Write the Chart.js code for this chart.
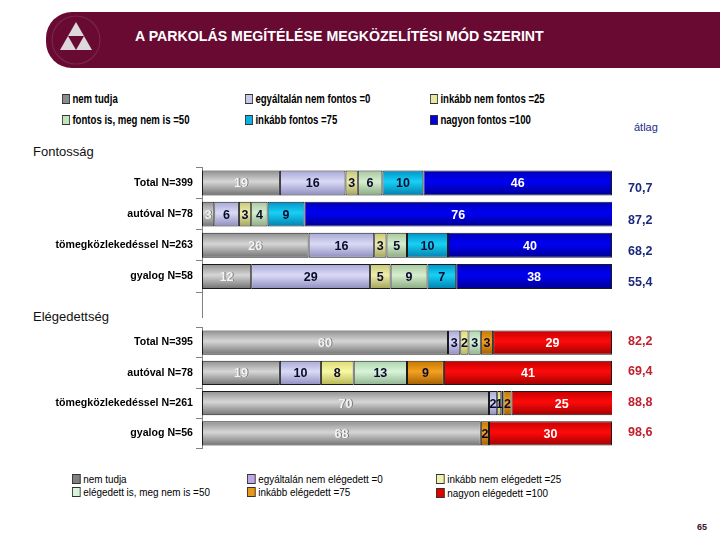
<!DOCTYPE html>
<html>
<head>
<meta charset="utf-8">
<script src="https://cdn.jsdelivr.net/npm/chart.js@4.4.1/dist/chart.umd.min.js"></script>
<style>
  body { margin:0; width:720px; height:540px; background:#fff; position:relative; overflow:hidden;
         font-family:"Liberation Sans",Arial,sans-serif; }
  .abs { position:absolute; white-space:nowrap; }
  #banner { left:46px; top:12px; width:674px; height:56px; background:#680a32; border-radius:26px 0 0 26px; }
  #title { left:135px; top:27px; color:#fff; font-weight:bold; font-size:15px; transform:scaleX(0.945); transform-origin:left top; }
  .leg { font-size:12px; font-weight:bold; color:#000; transform:scaleX(0.8); transform-origin:left top; }
  .leg2 { font-size:11.5px; color:#000; transform:scaleX(0.86); transform-origin:left top; }
  .sw { display:inline-block; width:8px; height:8px; border:1px solid #333; margin-right:3px; vertical-align:-1px; }
  canvas { position:absolute; left:0; }
</style>
</head>
<body>
<div id="banner" class="abs"></div>
<svg class="abs" style="left:48px;top:12px" width="60" height="56">
  <circle cx="28" cy="28" r="24" fill="none" stroke="#7a2648" stroke-width="1.2"/>
  <polygon points="28,10 20,24 36,24" fill="#dcd8dc"/>
  <polygon points="20,24 12,38 28,38" fill="#dcd8dc"/>
  <polygon points="36,24 28,38 44,38" fill="#dcd8dc"/>
</svg>
<div id="title" class="abs">A PARKOLÁS MEGÍTÉLÉSE MEGKÖZELÍTÉSI MÓD SZERINT</div>

<div id="legTop"></div>
<div class="abs" style="left:634px;top:121px;font-size:11px;color:#1c2a8c">átlag</div>
<div class="abs" style="left:33px;top:144px;font-size:13px;color:#111">Fontosság</div>
<div class="abs" style="left:33px;top:309px;font-size:13px;color:#111">Elégedettség</div>
<div id="legBot"></div>
<div class="abs" style="left:697px;top:522px;font-size:9px;font-weight:bold;color:#3a1030">65</div>

<canvas id="chartTop" width="720" height="160" style="top:158px"></canvas>
<canvas id="chartBot" width="720" height="140" style="top:318px"></canvas>

<script>
// ---- Fontosság ----
let topCats = ['Total N=399', 'autóval N=78', 'tömegközlekedéssel N=263', 'gyalog N=58']
let topNames = ['nem tudja', 'egyáltalán nem fontos =0', 'inkább nem fontos =25',
                'fontos is, meg nem is =50', 'inkább fontos =75', 'nagyon fontos =100']
let nemTudjaF   = [19, 3, 26, 12]
let egyaltalanF = [16, 6, 16, 29]
let inkabbNemF  = [3, 3, 3, 5]
let fontosIsF   = [6, 4, 5, 9]
let inkabbF     = [10, 9, 10, 7]
let nagyonF     = [46, 76, 40, 38]
let atlagF      = [70.7, 87.2, 68.2, 55.4]

// ---- Elégedettség ----
let botCats = ['Total N=395', 'autóval N=78', 'tömegközlekedéssel N=261', 'gyalog N=56']
let botNames = ['nem tudja', 'egyáltalán nem elégedett =0', 'inkább nem elégedett =25',
                'elégedett is, meg nem is =50', 'inkább elégedett =75', 'nagyon elégedett =100']
let nemTudjaE   = [60, 19, 70, 68]
let egyaltalanE = [3, 10, 2, 0]
let inkabbNemE  = [2, 8, 1, 0]
let elegedettE  = [3, 13, 0.5, 0]
let inkabbE     = [3, 9, 2, 2]
let nagyonE     = [29, 41, 25, 30]
let atlagE      = [82.2, 69.4, 88.8, 98.6]

// shading: top, middle, bottom of each bar
let topShades = [
    ['#8a8a8a', '#d6d6d6', '#6c6c6c'],
    ['#a4a4d4', '#dadaf6', '#8a8abc'],
    ['#c4c478', '#eeeeaa', '#a0a05a'],
    ['#a4c49c', '#d6eece', '#88a880'],
    ['#0090c4', '#18d0f4', '#007cac'],
    ['#0000b4', '#0000f4', '#000090']
]
let botShades = [
    ['#8a8a8a', '#d6d6d6', '#6c6c6c'],
    ['#a4a4d4', '#dadaf6', '#8a8abc'],
    ['#d8d870', '#f8f8a4', '#b0b050'],
    ['#a8d0a8', '#d8f4d8', '#8cb08c'],
    ['#c07400', '#f4a020', '#9c5c00'],
    ['#c00000', '#ff0a0a', '#9a0000']
]
let labelColors = ['#f4f4f4', '#0a0a30', '#0a0a30', '#0a0a30', '#0a0a30', '#ffffff']

function barFill(shades){
    return function(c){
        let chart = c.chart
        let y = chart.scales.y
        if(!chart.chartArea || !y) return shades[1]
        let mid = y.getPixelForValue(c.dataIndex)
        if(!isFinite(mid)) return shades[1]
        let g = chart.ctx.createLinearGradient(0, mid - 13, 0, mid + 13)
        g.addColorStop(0, shades[0])
        g.addColorStop(0.45, shades[1])
        g.addColorStop(1, shades[2])
        return g
    }
}

function MakeDatasets(names, values, shades){
    let sets = []
    for (let i = 0; i < names.length; i++) {
        sets.push({
            label: names[i],
            data: values[i],
            backgroundColor: barFill(shades[i]),
            borderColor: '#1a1a1a',
            borderWidth: 1,
            borderSkipped: false,
            labelColor: labelColors[i],
            clip: {left: 0, right: 0, top: false, bottom: false}
        })
    }
    return sets
}

const segLabels = {
    id: 'segLabels',
    afterDatasetsDraw(chart){
        let ctx = chart.ctx
        ctx.save()
        ctx.font = 'bold 12.5px "Liberation Sans", Arial, sans-serif'
        ctx.textAlign = 'center'
        ctx.textBaseline = 'middle'
        chart.data.datasets.forEach((ds, i) => {
            chart.getDatasetMeta(i).data.forEach((bar, j) => {
                let v = ds.data[j]
                if(v < 1) return
                let p = bar.getProps(['x', 'y', 'base'], true)
                let right = Math.min(p.x, chart.chartArea.right)
                let cx = (right + p.base) / 2
                if(i === 0){
                    ctx.fillStyle = '#777'
                    ctx.fillText(String(v), cx + 1, p.y + 1)
                }
                ctx.fillStyle = ds.labelColor
                ctx.fillText(String(v), cx, p.y + 1)
            })
        })
        ctx.restore()
    }
}

const averages = {
    id: 'averages',
    afterDraw(chart, args, opts){
        let ctx = chart.ctx
        let y = chart.scales.y
        ctx.save()
        ctx.font = 'bold 12.5px "Liberation Sans", sans-serif'
        ctx.fillStyle = opts.color
        ctx.textAlign = 'left'
        ctx.textBaseline = 'middle'
        opts.values.forEach((v, j) => {
            ctx.fillText(v.toFixed(1).replace('.', ','), chart.chartArea.right + 16, y.getPixelForValue(j) + opts.dy)
        })
        // axis line continues down to the next block
        if(opts.extend){
            ctx.strokeStyle = '#808080'
            ctx.lineWidth = 1
            ctx.beginPath()
            ctx.moveTo(chart.chartArea.left + 0.5, chart.chartArea.bottom)
            ctx.lineTo(chart.chartArea.left + 0.5, chart.height)
            ctx.stroke()
        }
        ctx.restore()
    }
}

function DrawChart(id, cats, sets, avg, color, dy, pad, extend){
    return new Chart(id, {
        type: 'bar',
        data: { labels: cats, datasets: sets },
        plugins: [segLabels, averages],
        options: {
            indexAxis: 'y',
            responsive: false,
            animation: false,
            layout: { padding: { left: 0, right: 108, top: pad[0], bottom: pad[1] } },
            datasets: { bar: { categoryPercentage: 1, barPercentage: 0.8 } },
            scales: {
                x: { stacked: true, min: 0, max: 100, display: false },
                y: {
                    stacked: true,
                    afterFit(scale){ scale.width = 202 },
                    grid: { drawOnChartArea: false, drawTicks: true, tickLength: 6, color: '#808080' },
                    border: { display: true, color: '#808080' },
                    ticks: {
                        color: '#000', padding: 3,
                        font: { family: '"Liberation Sans", sans-serif', size: 10.6, weight: 'bold' }
                    }
                }
            },
            plugins: {
                legend: { display: false },
                tooltip: { enabled: false },
                title: { display: false },
                averages: { values: avg, color: color, dy: dy, extend: extend }
            }
        }
    })
}

function DrawLegend(el, names, rows, cls, swatch){
    let html = ''
    names.forEach((n, i) => {
        let r = rows[i]
        html += `<div class="abs ${cls}" style="left:${r[0]}px;top:${r[1]}px">` +
            `<span class="sw" style="background:${swatch[i]}"></span>${n}</div>`
    })
    document.getElementById(el).innerHTML = html
}

DrawLegend('legTop', topNames,
    [[62, 92], [245, 92], [430, 92], [62, 113], [245, 113], [430, 113]], 'leg',
    ['#8c8c8c', '#c8c8e8', '#e8e8a4', '#c4e4bc', '#10b0e0', '#0000d8'])
DrawLegend('legBot', botNames,
    [[72, 473], [247, 473], [436, 473], [72, 486], [247, 486], [436, 487]], 'leg2',
    ['#808080', '#c0a8e8', '#f0f0b0', '#d8f4dc', '#e89818', '#e00000'])

let topSets = MakeDatasets(topNames, [nemTudjaF, egyaltalanF, inkabbNemF, fontosIsF, inkabbF, nagyonF], topShades)
let botSets = MakeDatasets(botNames, [nemTudjaE, egyaltalanE, inkabbNemE, elegedettE, inkabbE, nagyonE], botShades)

DrawChart('chartTop', topCats, topSets, atlagF, '#1c2a7c', 6, [5, 26], true)
DrawChart('chartBot', botCats, botSets, atlagE, '#c0202c', -1, [6, 5], false)
</script>
</body>
</html>
